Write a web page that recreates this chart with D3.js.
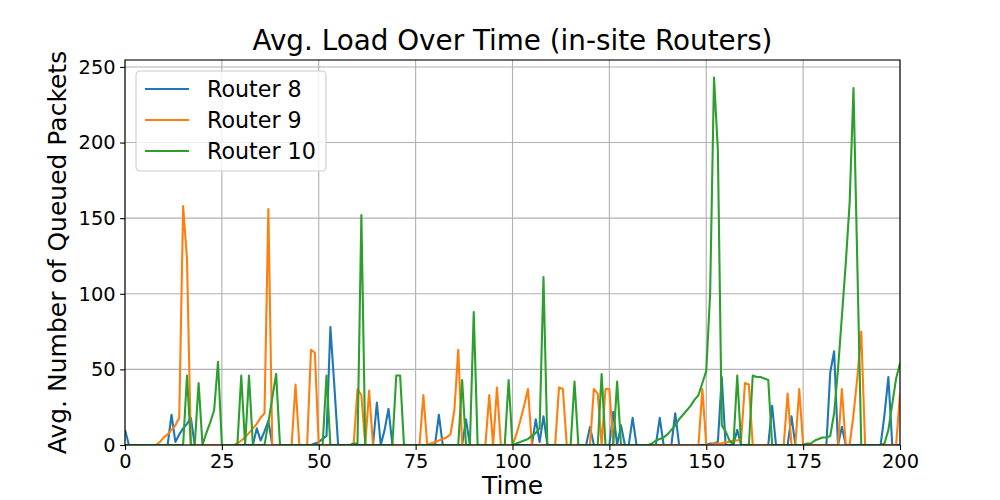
<!DOCTYPE html>
<html>
<head>
<meta charset="utf-8">
<script src="https://cdnjs.cloudflare.com/ajax/libs/d3/7.8.5/d3.min.js"></script>
<style>
  body { margin: 0; background: #fff; }
  svg { font-family: "DejaVu Sans", sans-serif; }
</style>
</head>
<body>
<svg id="chart" width="1000" height="500"></svg>
<script>
// time steps 0..200
var times = d3.range(0, 201);

var router8 = [
  10,0,0,0,0,0,0,0,0,0,
  0,0,20,2,7,11,14,18,0,0,
  0,0,0,0,0,0,0,0,0,0,
  0,0,0,0,11,3,9,16,0,0,
  0,0,0,0,0,0,0,0,0,1,
  2,4,6,78,40,0,0,0,0,0,
  0,0,0,0,0,28,0,10,24,0,
  0,0,0,0,0,0,0,0,0,0,
  0,20,0,0,0,0,0,0,17,0,
  0,0,0,0,0,0,0,0,0,0,
  0,0,0,0,0,0,17,2,19,0,
  0,0,0,0,0,0,0,0,0,0,
  12,0,0,0,0,0,22,0,13,0,
  0,18,0,0,0,0,0,0,18,0,
  0,0,21,0,0,0,0,0,0,0,
  0,1,1,2,45,0,0,0,10,0,
  0,0,0,0,0,0,0,26,0,0,
  0,0,19,0,0,0,0,0,0,0,
  0,0,48,62,0,12,0,0,0,0,
  0,0,0,0,0,0,20,45,0,0,
  0
];

var router9 = [
  0,0,0,0,0,0,0,0,0,2,
  5,7,10,13,18,158,123,0,0,0,
  0,0,0,0,0,0,0,0,0,1,
  3,5,8,11,14,18,21,156,0,0,
  0,0,0,0,40,0,0,0,63,61,
  0,0,0,0,0,0,0,0,0,0,
  37,33,0,36,0,0,0,0,0,0,
  0,0,0,0,0,0,0,33,0,1,
  2,3,4,5,7,23,63,0,0,0,
  0,0,0,0,33,0,38,0,0,0,
  0,7,16,26,37,0,0,0,0,0,
  0,0,38,37,0,0,0,0,0,0,
  0,37,34,0,37,37,0,0,0,0,
  0,0,0,0,0,0,0,0,0,0,
  0,0,0,0,0,0,0,0,0,37,
  0,0,1,1,1,2,2,3,3,4,
  41,40,0,0,0,0,0,0,0,0,
  0,34,0,0,37,0,0,0,0,0,
  0,0,0,0,0,37,0,0,20,45,
  75,0,0,0,0,0,0,0,0,0,
  34
];

var router10 = [
  0,0,0,0,0,0,0,0,0,0,
  0,0,0,0,0,0,46,0,0,41,
  0,8,15,23,55,0,0,0,0,0,
  46,0,46,0,0,0,0,15,31,47,
  0,0,0,0,0,0,0,0,0,0,
  0,0,46,0,0,0,0,0,0,1,
  1,152,0,0,0,0,0,0,0,0,
  46,46,0,0,0,0,0,0,0,0,
  0,0,0,0,0,0,0,43,0,0,
  88,0,0,0,0,0,0,0,0,43,
  0,1,2,3,4,6,8,11,111,0,
  0,0,0,0,0,0,42,0,0,0,
  0,0,0,47,0,0,0,42,0,0,
  0,0,0,0,0,0,1,3,4,5,
  7,10,13,17,20,23,26,30,33,41,
  49,100,243,195,13,9,3,0,46,0,
  0,0,46,45,45,44,43,0,0,0,
  0,0,0,0,0,0,1,1,3,4,
  5,5,6,21,50,85,120,160,236,118,
  0,0,0,0,0,0,1,10,27,44,
  54
];

var seriesNames = ["Router 8", "Router 9", "Router 10"];
var seriesColors = ["#1f77b4", "#ff7f0e", "#2ca02c"];
var xTicks = [0, 25, 50, 75, 100, 125, 150, 175, 200];
var yTicks = [0, 50, 100, 150, 200, 250];

var margin = {top: 60, right: 100, bottom: 55, left: 125};
var W = 1000, H = 500;
var w = W - margin.left - margin.right;
var h = H - margin.top - margin.bottom;

var svg = d3.select("#chart");
var g = svg.append("g").attr("transform", "translate(" + margin.left + "," + margin.top + ")");

var x = d3.scaleLinear().domain([0, 200]).range([0, w]);
var y = d3.scaleLinear().domain([0, 254.6]).range([h, 0]);

svg.append("defs").append("clipPath").attr("id", "clip")
  .append("rect").attr("width", w).attr("height", h);

// grid
g.append("g").selectAll("line").data(xTicks).enter().append("line")
  .attr("x1", d => x(d)).attr("x2", d => x(d)).attr("y1", 0).attr("y2", h)
  .attr("stroke", "#b0b0b0").attr("stroke-width", 1.1);
g.append("g").selectAll("line").data(yTicks).enter().append("line")
  .attr("y1", d => y(d)).attr("y2", d => y(d)).attr("x1", 0).attr("x2", w)
  .attr("stroke", "#b0b0b0").attr("stroke-width", 1.1);

// lines
var line = d3.line().x((d, i) => x(times[i])).y(d => y(d));
[router8, router9, router10].forEach(function (s, k) {
  g.append("path").datum(s)
    .attr("clip-path", "url(#clip)")
    .attr("d", line)
    .attr("fill", "none")
    .attr("stroke", seriesColors[k])
    .attr("stroke-width", 2.1)
    .attr("stroke-linejoin", "round");
});

// axes
var xAxis = g.append("g").attr("transform", "translate(0," + h + ")")
  .call(d3.axisBottom(x).tickValues(xTicks).tickSize(4.9).tickPadding(4.5));
var yAxis = g.append("g")
  .call(d3.axisLeft(y).tickValues(yTicks).tickSize(4.9).tickPadding(4.5));
[xAxis, yAxis].forEach(function (a) {
  a.select(".domain").remove();
  a.selectAll("line").attr("stroke", "#000").attr("stroke-width", 1.1);
  a.selectAll("text").attr("font-size", "19.4px").attr("fill", "#000")
    .attr("font-family", "DejaVu Sans");
});

// frame
g.append("rect").attr("width", w).attr("height", h)
  .attr("fill", "none").attr("stroke", "#000").attr("stroke-width", 1.1);

// title and labels
svg.append("text").attr("x", margin.left + w / 2).attr("y", 50)
  .attr("text-anchor", "middle").attr("font-size", "27.8px")
  .text("Avg. Load Over Time (in-site Routers)");
svg.append("text").attr("x", margin.left + w / 2).attr("y", 494)
  .attr("text-anchor", "middle").attr("font-size", "25px")
  .text("Time");
svg.append("text").attr("transform", "translate(66," + (margin.top + h / 2) + ") rotate(-90)")
  .attr("text-anchor", "middle").attr("font-size", "25px")
  .text("Avg. Number of Queued Packets");

// legend
var lg = svg.append("g").attr("transform", "translate(136,71)");
lg.append("rect").attr("width", 190).attr("height", 100).attr("rx", 4)
  .attr("fill", "#fff").attr("fill-opacity", 0.8)
  .attr("stroke", "#cccccc").attr("stroke-width", 1.1);
seriesNames.forEach(function (name, i) {
  var cy = 18 + i * 31;
  lg.append("line").attr("x1", 9).attr("x2", 53).attr("y1", cy).attr("y2", cy)
    .attr("stroke", seriesColors[i]).attr("stroke-width", 2.1);
  lg.append("text").attr("x", 71).attr("y", cy).attr("dy", "0.36em")
    .attr("font-size", "22.2px").text(name);
});
</script>
</body>
</html>
